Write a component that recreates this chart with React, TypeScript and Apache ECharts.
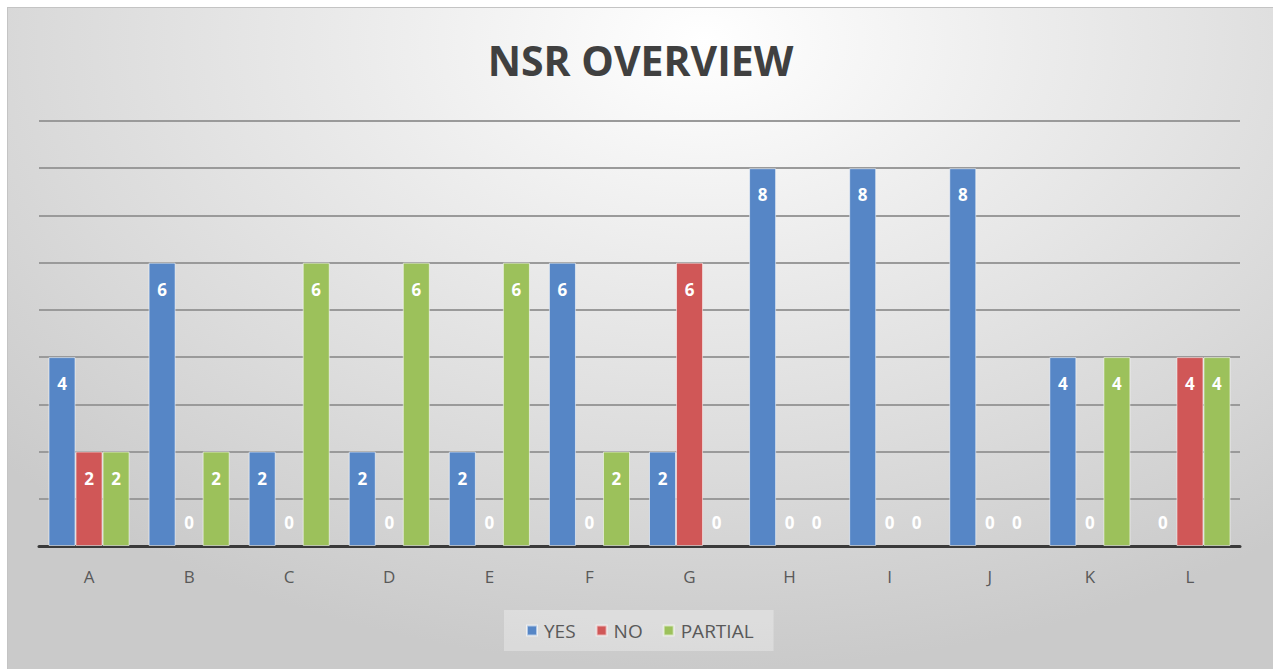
import React, { useEffect, useRef } from "react";
import * as echarts from "echarts";

const categories = ["A", "B", "C", "D", "E", "F", "G", "H", "I", "J", "K", "L"];
const yesValues = [4, 6, 2, 2, 2, 6, 2, 8, 8, 8, 4, 0];
const noValues = [2, 0, 0, 0, 0, 0, 6, 0, 0, 0, 0, 4];
const partialValues = [2, 2, 6, 6, 6, 2, 0, 0, 0, 0, 4, 4];
const seriesNames = ["YES", "NO", "PARTIAL"];
const seriesColors = ["#5686C6", "#D05757", "#9CC15B"];

function buildData(values: number[]) {
  return values.map((v) =>
    v === 0
      ? { value: v, itemStyle: { borderWidth: 0 }, label: { position: "insideBottom", distance: 15 } }
      : { value: v, label: { position: "insideTop", distance: 18 } }
  );
}

export default function App() {
  const ref = useRef<HTMLDivElement>(null);
  useEffect(() => {
    if (!ref.current) return;
    const chart = echarts.init(ref.current, undefined, { renderer: "svg" });
    const allValues = [yesValues, noValues, partialValues];
    chart.setOption({
      animation: false,
      title: {
        text: "NSR OVERVIEW",
        left: "center",
        top: 26,
        textStyle: { fontFamily: "Open Sans", fontWeight: "bold", fontSize: 41, color: "#404040" },
      },
      legend: {
        left: 496,
        top: 602,
        icon: "rect",
        itemWidth: 10,
        itemHeight: 10,
        itemGap: 20,
        padding: [11, 20, 11, 22],
        backgroundColor: "rgba(255,255,255,0.3)",
        textStyle: { fontFamily: "Open Sans", fontSize: 19, color: "#595959", padding: [0, 0, 0, 2] },
        data: seriesNames,
      },
      grid: { left: 31, right: 33, top: 113, bottom: 123 },
      xAxis: {
        type: "category",
        data: categories,
        axisTick: { show: false },
        axisLine: { lineStyle: { color: "#3a3a3a", width: 3 } },
        axisLabel: { fontFamily: "Open Sans", fontSize: 17, color: "#595959", margin: 22 },
      },
      yAxis: {
        type: "value",
        min: 0,
        max: 9,
        interval: 1,
        axisLabel: { show: false },
        axisLine: { show: false },
        axisTick: { show: false },
        splitLine: { lineStyle: { color: "#9a9a9a", width: 2 } },
      },
      series: seriesNames.map((name, i) => ({
        name,
        type: "bar",
        data: buildData(allValues[i]),
        barGap: "0%",
        barCategoryGap: "19%",
        itemStyle: { color: seriesColors[i], borderColor: "rgba(255,255,255,0.55)", borderWidth: 1 },
        label: {
          show: true,
          color: "#ffffff",
          fontFamily: "Open Sans",
          fontWeight: "bold",
          fontSize: 17,
        },
      })),
    });
    return () => chart.dispose();
  }, []);
  return (
    <div style={{ position: "absolute", left: 0, top: 0, width: 1273, height: 669, background: "#ffffff" }}>
      <div
        ref={ref}
        style={{
          position: "absolute",
          left: 7,
          top: 7,
          width: 1266,
          height: 662,
          background:
            "radial-gradient(ellipse 75% 95% at 55% 5%, #ffffff 0%, #ececec 35%, #dadada 70%, #cacaca 100%)",
          borderTop: "1px solid #c4c4c4",
          borderLeft: "1px solid #c4c4c4",
          boxSizing: "border-box",
        }}
      />
    </div>
  );
}
